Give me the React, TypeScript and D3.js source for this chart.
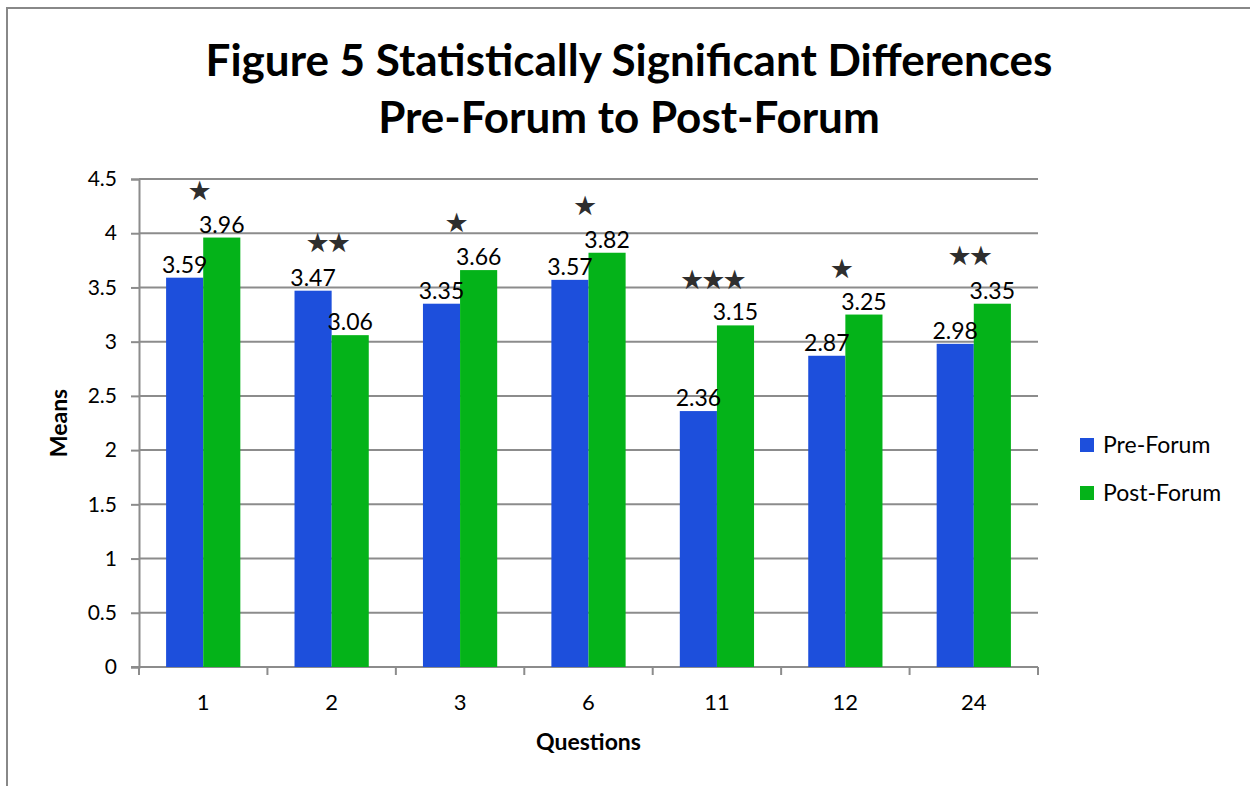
import { useEffect, useRef } from "react";
import * as d3 from "d3";

const questions = ["1", "2", "3", "6", "11", "12", "24"];
const preForum = [3.59, 3.47, 3.35, 3.57, 2.36, 2.87, 2.98];
const postForum = [3.96, 3.06, 3.66, 3.82, 3.15, 3.25, 3.35];
const seriesNames = ["Pre-Forum", "Post-Forum"];
// significance markers: how many stars and at what height (in means units)
const starCounts = [1, 2, 1, 1, 3, 1, 2];
const starLevels = [4.4, 3.92, 4.1, 4.26, 3.58, 3.68, 3.8];
const yTicks = [0, 0.5, 1, 1.5, 2, 2.5, 3, 3.5, 4, 4.5];

const BLUE = "#1d4fdc";
const GREEN = "#04b319";
const GRID = "#8c8c8c";
const FONT = "Lato, 'Open Sans', sans-serif";

export default function App() {
  const svgRef = useRef<SVGSVGElement | null>(null);

  useEffect(() => {
    if (!svgRef.current) return;
    const width = 1250;
    const height = 786;
    const plot = { left: 139, right: 1038, top: 179, bottom: 667 };

    const svg = d3.select(svgRef.current);
    svg.selectAll("*").remove();
    svg.attr("width", width).attr("height", height);

    svg.append("rect").attr("width", width).attr("height", height).attr("fill", "#fff");
    // outer chart border (runs off the right/bottom edge)
    svg.append("rect")
      .attr("x", 7).attr("y", 8)
      .attr("width", width + 20).attr("height", height + 20)
      .attr("fill", "none").attr("stroke", "#888").attr("stroke-width", 2);

    svg.append("text")
      .attr("x", 629).attr("y", 76)
      .attr("text-anchor", "middle")
      .attr("font-family", FONT).attr("font-weight", 700).attr("font-size", 44)
      .text("Figure 5 Statistically Significant Differences");
    svg.append("text")
      .attr("x", 629).attr("y", 133)
      .attr("text-anchor", "middle")
      .attr("font-family", FONT).attr("font-weight", 700).attr("font-size", 44)
      .text("Pre-Forum to Post-Forum");

    const x = d3.scaleBand<string>().domain(questions).range([plot.left, plot.right]).padding(0);
    const sub = d3.scaleBand<string>().domain(seriesNames).range([0, x.bandwidth()]).paddingOuter(0.73).paddingInner(0);
    const y = d3.scaleLinear().domain([0, 4.5]).range([plot.bottom, plot.top]);

    // y axis + ticks
    const gy = svg.append("g").attr("transform", `translate(${plot.left},0)`)
      .call(d3.axisLeft(y).tickValues(yTicks).tickSize(8).tickPadding(14).tickFormat(d => String(d)));
    gy.select(".domain").attr("stroke", GRID).attr("stroke-width", 2);
    gy.selectAll("line").attr("stroke", GRID).attr("stroke-width", 2);
    gy.selectAll("text").attr("font-family", FONT).attr("font-size", 21).attr("fill", "#000");

    svg.append("g").selectAll("line.grid")
      .data(yTicks.filter(t => t > 0))
      .enter().append("line")
      .attr("x1", plot.left).attr("x2", plot.right)
      .attr("y1", d => y(d)).attr("y2", d => y(d))
      .attr("stroke", GRID).attr("stroke-width", 2);

    // x axis baseline and category boundary ticks
    svg.append("line")
      .attr("x1", plot.left - 8).attr("x2", plot.right)
      .attr("y1", y(0)).attr("y2", y(0))
      .attr("stroke", GRID).attr("stroke-width", 2);
    const bounds = questions.map(q => x(q)!).concat([plot.right]);
    svg.append("g").selectAll("line")
      .data(bounds).enter().append("line")
      .attr("x1", d => d).attr("x2", d => d)
      .attr("y1", y(0)).attr("y2", y(0) + 8)
      .attr("stroke", GRID).attr("stroke-width", 2);
    svg.append("g").selectAll("text")
      .data(questions).enter().append("text")
      .attr("x", d => x(d)! + x.bandwidth() / 2)
      .attr("y", 710)
      .attr("text-anchor", "middle")
      .attr("font-family", FONT).attr("font-size", 22)
      .text(d => d);

    const rows = questions.map((q, i) => ({ q, vals: [preForum[i], postForum[i]] }));
    const colors = [BLUE, GREEN];

    const groups = svg.append("g").selectAll("g")
      .data(rows).enter().append("g")
      .attr("transform", d => `translate(${x(d.q)},0)`);

    groups.selectAll("rect")
      .data(d => d.vals.map((v, k) => ({ v, k })))
      .enter().append("rect")
      .attr("x", d => sub(seriesNames[d.k])!)
      .attr("width", sub.bandwidth())
      .attr("y", d => y(d.v))
      .attr("height", d => y(0) - y(d.v))
      .attr("fill", d => colors[d.k]);

    groups.selectAll("text.val")
      .data(d => d.vals.map((v, k) => ({ v, k })))
      .enter().append("text")
      .attr("x", d => sub(seriesNames[d.k])! + sub.bandwidth() / 2)
      .attr("y", d => y(d.v) - 5)
      .attr("text-anchor", "middle")
      .attr("font-family", FONT).attr("font-size", 23)
      .text(d => d.v.toFixed(2));

    // significance stars
    svg.append("g").selectAll("text")
      .data(questions).enter().append("text")
      .attr("x", (d) => x(d)! + x.bandwidth() / 2 - 5)
      .attr("y", (_d, i) => y(starLevels[i]) + 10)
      .attr("text-anchor", "middle")
      .attr("font-family", "'DejaVu Sans', sans-serif")
      .attr("font-size", 27)
      .attr("letter-spacing", -3)
      .attr("fill", "#2e2e2e")
      .text((_d, i) => "\u2605".repeat(starCounts[i]));

    svg.append("text")
      .attr("transform", `translate(67,${(plot.top + plot.bottom) / 2}) rotate(-90)`)
      .attr("text-anchor", "middle")
      .attr("font-family", FONT).attr("font-weight", 700).attr("font-size", 23)
      .text("Means");
    svg.append("text")
      .attr("x", (plot.left + plot.right) / 2).attr("y", 750)
      .attr("text-anchor", "middle")
      .attr("font-family", FONT).attr("font-weight", 700).attr("font-size", 23)
      .text("Questions");

    const legend = svg.append("g").selectAll("g")
      .data(seriesNames).enter().append("g")
      .attr("transform", (_d, i) => `translate(1080,${445 + i * 48})`);
    legend.append("rect")
      .attr("x", 0).attr("y", -7).attr("width", 14).attr("height", 14)
      .attr("fill", (_d, i) => colors[i]);
    legend.append("text")
      .attr("x", 23).attr("y", 8)
      .attr("font-family", FONT).attr("font-size", 23)
      .text(d => d);
  }, []);

  return <svg ref={svgRef} style={{ position: "absolute", left: 0, top: 0 }} />;
}
